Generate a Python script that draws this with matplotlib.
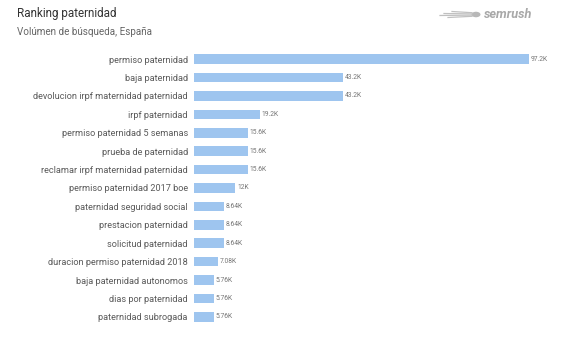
import matplotlib
matplotlib.use("Agg")
import matplotlib.pyplot as plt
from matplotlib.patches import Circle
from matplotlib.lines import Line2D

categories = [
    "permiso paternidad",
    "baja paternidad",
    "devolucion irpf maternidad paternidad",
    "irpf paternidad",
    "permiso paternidad 5 semanas",
    "prueba de paternidad",
    "reclamar irpf maternidad paternidad",
    "permiso paternidad 2017 boe",
    "paternidad seguridad social",
    "prestacion paternidad",
    "solicitud paternidad",
    "duracion permiso paternidad 2018",
    "baja paternidad autonomos",
    "dias por paternidad",
    "paternidad subrogada",
]
values = [97.2, 43.2, 43.2, 19.2, 15.6, 15.6, 15.6, 12, 8.64, 8.64, 8.64, 7.08, 5.76, 5.76, 5.76]
value_labels = ["97.2K", "43.2K", "43.2K", "19.2K", "15.6K", "15.6K", "15.6K", "12K",
                "8.64K", "8.64K", "8.64K", "7.08K", "5.76K", "5.76K", "5.76K"]

plt.rcParams['font.family'] = ['Roboto', 'DejaVu Sans']

W, H = 561, 345
fig = plt.figure(figsize=(W / 100, H / 100), dpi=100)
fig.patch.set_facecolor("white")

left_px, right_px = 194, 545
top_px, bot_px = 49.8, 326.2
ax = fig.add_axes([left_px / W, 1 - bot_px / H, (right_px - left_px) / W, (bot_px - top_px) / H])

y = list(range(len(categories)))
ax.barh(y, values, height=0.52, color="#9ec5ef", edgecolor="none")
ax.set_ylim(len(categories) - 0.5, -0.5)
ax.set_xlim(0, (right_px - left_px) / 3.447)
ax.set_yticks(y)
ax.set_yticklabels(categories, fontsize=6.55, color="#5a5a5a")
ax.tick_params(axis="y", length=0, pad=4.5)
ax.set_xticks([])
for s in ax.spines.values():
    s.set_visible(False)

for yi, v, lab in zip(y, values, value_labels):
    ax.text(v + 0.5, yi, lab, va="center", ha="left", fontsize=4.9, color="#777777")

fig.text(17 / W, 1 - 13 / H, "Ranking paternidad", fontsize=8.4, color="#333333", va="center", ha="left")
fig.text(17 / W, 1 - 31.5 / H, "Volúmen de búsqueda, España", fontsize=7.1, color="#666666", va="center", ha="left")

# logo
fig.text(484 / W, 1 - 14.5 / H, "semrush", fontsize=9.2, color="#a8a8a8", fontweight="bold",
         style="italic", va="center", ha="left")
circ = Circle((476 / W, 1 - 14.5 / H), 4.5 / W, transform=fig.transFigure,
              facecolor="#b8b8b8", edgecolor="none")
fig.add_artist(circ)
for dy, x0 in [(-3, 452), (-1, 444), (1, 440), (3, 448)]:
    fig.add_artist(Line2D([x0 / W, 472 / W], [1 - (14.5 + dy) / H, 1 - (14.5 + dy * 0.6) / H],
                          transform=fig.transFigure, color="#c0c0c0", lw=0.9))

fig.savefig("out.png", dpi=100, facecolor="white")
